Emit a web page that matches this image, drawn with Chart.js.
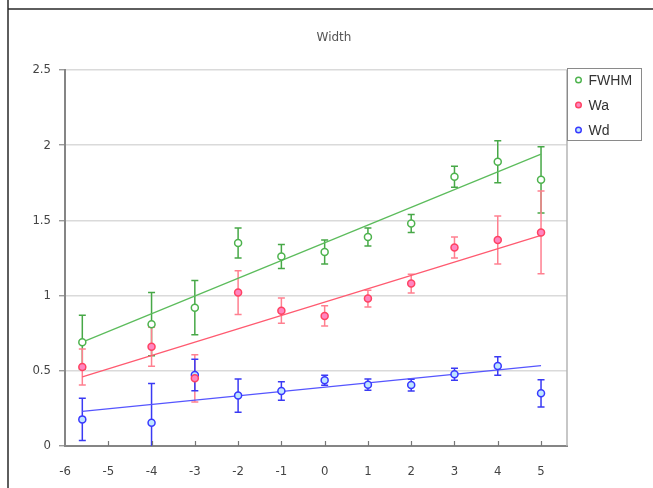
<!DOCTYPE html>
<html>
<head>
<meta charset="utf-8">
<script src="https://cdn.jsdelivr.net/npm/chart.js@4/dist/chart.umd.min.js"></script>
<style>
  html, body { margin: 0; padding: 0; background: #ffffff; }
  canvas { display: block; }
</style>
</head>
<body>
<canvas id="c" width="653" height="488"></canvas>
<script>
// Positions along the x axis
const xValues = [-5.6, -4, -3, -2, -1, 0, 1, 2, 3, 4, 5];

// Measured widths with their error margins
const fwhm    = [0.69, 0.81, 0.92, 1.35, 1.26, 1.29, 1.39, 1.48, 1.79, 1.89, 1.77];
const fwhmErr = [0.18, 0.21, 0.18, 0.10, 0.08, 0.08, 0.06, 0.06, 0.07, 0.14, 0.22];
const wa      = [0.525, 0.66, 0.45, 1.02, 0.90, 0.865, 0.98, 1.08, 1.32, 1.37, 1.42];
const waErr   = [0.12, 0.13, 0.157, 0.146, 0.084, 0.067, 0.055, 0.062, 0.07, 0.16, 0.275];
const wd      = [0.177, 0.155, 0.472, 0.335, 0.366, 0.437, 0.408, 0.405, 0.477, 0.532, 0.35];
const wdErr   = [0.14, 0.26, 0.104, 0.11, 0.062, 0.033, 0.037, 0.039, 0.04, 0.062, 0.09];

// Linear trend lines (end points)
const trendX    = [-5.6, 5];
const fwhmTrend = [0.69, 1.94];
const waTrend   = [0.46, 1.40];
const wdTrend   = [0.23, 0.535];

// Axis ticks
const xTicks = [-6, -5, -4, -3, -2, -1, 0, 1, 2, 3, 4, 5];
const yTicks = [0, 0.5, 1, 1.5, 2, 2.5];

const seriesNames = ['FWHM', 'Wa', 'Wd'];
const chartTitle = 'Width';

const toPoints = (xs, ys) => xs.map((x, i) => ({ x: x, y: ys[i] }));

const COLORS = {
  FWHM: { line: '#4db34d', fill: '#ffffff', err: '#47a847', trend: '#5cbc5c' },
  Wa:   { line: '#ff4262', fill: '#ff86c0', err: '#ff8090', trend: '#ff5a70' },
  Wd:   { line: '#3838ff', fill: '#bfe6ff', err: '#3a3af4', trend: '#5555ff' }
};

function pointSet(name, ys, errs) {
  const c = COLORS[name];
  return {
    label: name,
    data: toPoints(xValues, ys),
    errors: errs,
    showLine: false,
    pointRadius: 3.5,
    pointHoverRadius: 3.5,
    pointBorderWidth: 1.5,
    borderColor: c.line,
    backgroundColor: c.fill,
    errColor: c.err
  };
}

function trendSet(name, ys) {
  const c = COLORS[name];
  return {
    label: name + ' trend',
    data: toPoints(trendX, ys),
    showLine: true,
    pointRadius: 0,
    borderWidth: 1.3,
    borderColor: c.trend,
    backgroundColor: c.trend,
    isTrend: true
  };
}

// Frame around the page, the title, and the plot's right edge
const framePlugin = {
  id: 'frame',
  beforeDraw(chart) {
    const ctx = chart.ctx;
    ctx.save();
    ctx.fillStyle = '#ffffff';
    ctx.fillRect(0, 0, chart.width, chart.height);
    ctx.strokeStyle = '#2a2a2a';
    ctx.lineWidth = 1.5;
    ctx.beginPath();
    ctx.moveTo(8, 9);
    ctx.lineTo(chart.width, 9);
    ctx.moveTo(8, 0);
    ctx.lineTo(8, chart.height);
    ctx.stroke();
    ctx.fillStyle = '#555555';
    ctx.font = '12px "DejaVu Sans", sans-serif';
    ctx.textAlign = 'center';
    ctx.textBaseline = 'middle';
    ctx.fillText(chartTitle, 334, 38);
    ctx.restore();
  },
  afterDraw(chart) {
    const ctx = chart.ctx;
    const a = chart.chartArea;
    ctx.save();
    ctx.strokeStyle = '#b4b4b4';
    ctx.lineWidth = 1.5;
    ctx.beginPath();
    ctx.moveTo(a.right, a.top);
    ctx.lineTo(a.right, a.bottom);
    ctx.stroke();
    // short tick marks pointing up from the x axis
    const xs = chart.scales.x;
    ctx.strokeStyle = '#777777';
    ctx.lineWidth = 1.2;
    ctx.beginPath();
    xTicks.forEach(v => {
      if (v === xTicks[0]) return;
      const px = Math.round(xs.getPixelForValue(v)) + 0.5;
      ctx.moveTo(px, a.bottom);
      ctx.lineTo(px, a.bottom - 5);
    });
    ctx.stroke();
    ctx.restore();
  }
};

// Vertical error bars with caps
const errorBarPlugin = {
  id: 'errorBars',
  beforeDatasetsDraw(chart) {
    const ctx = chart.ctx;
    const a = chart.chartArea;
    const xs = chart.scales.x, ys = chart.scales.y;
    ctx.save();
    ctx.beginPath();
    ctx.rect(a.left, a.top - 10, a.right - a.left, a.bottom - a.top + 10);
    ctx.clip();
    chart.data.datasets.forEach(ds => {
      if (!ds.errors) return;
      ctx.strokeStyle = ds.errColor;
      ctx.lineWidth = 1.5;
      ds.data.forEach((p, i) => {
        const e = ds.errors[i];
        const px = xs.getPixelForValue(p.x);
        const top = ys.getPixelForValue(p.y + e);
        const bot = ys.getPixelForValue(p.y - e);
        ctx.beginPath();
        ctx.moveTo(px, top);
        ctx.lineTo(px, bot);
        ctx.moveTo(px - 3.5, top);
        ctx.lineTo(px + 3.5, top);
        if (p.y - e >= 0) {
          ctx.moveTo(px - 3.5, bot);
          ctx.lineTo(px + 3.5, bot);
        }
        ctx.stroke();
      });
    });
    ctx.restore();
  }
};

// Boxed legend to the right of the plot
const boxLegendPlugin = {
  id: 'boxLegend',
  afterDraw(chart) {
    const ctx = chart.ctx;
    const a = chart.chartArea;
    const left = a.right + 0.5, top = 68.5, w = 74, h = 72;
    ctx.save();
    ctx.strokeStyle = '#8a8a8a';
    ctx.lineWidth = 1;
    ctx.strokeRect(left, top, w, h);
    ctx.font = '14px "Liberation Sans", Arial, sans-serif';
    ctx.textBaseline = 'middle';
    ctx.textAlign = 'left';
    chart.data.datasets.forEach((ds, i) => {
      if (ds.isTrend) return;
      const cy = 80 + i * 25;
      ctx.beginPath();
      ctx.arc(left + 11, cy, 2.8, 0, Math.PI * 2);
      ctx.fillStyle = ds.backgroundColor;
      ctx.fill();
      ctx.strokeStyle = ds.borderColor;
      ctx.lineWidth = 1.4;
      ctx.stroke();
      ctx.fillStyle = '#333333';
      ctx.fillText(ds.label, left + 21, cy + 1);
    });
    ctx.restore();
  }
};

const tickFont = { family: '"Liberation Sans Narrow", "DejaVu Sans Condensed", sans-serif', size: 13 };

new Chart(document.getElementById('c'), {
  type: 'scatter',
  data: {
    datasets: [
      pointSet(seriesNames[0], fwhm, fwhmErr),
      pointSet(seriesNames[1], wa, waErr),
      pointSet(seriesNames[2], wd, wdErr),
      trendSet(seriesNames[0], fwhmTrend),
      trendSet(seriesNames[1], waTrend),
      trendSet(seriesNames[2], wdTrend)
    ]
  },
  options: {
    responsive: false,
    devicePixelRatio: 1,
    animation: false,
    layout: { padding: { left: 0, right: 86, top: 70, bottom: 0 } },
    plugins: {
      legend: { display: false },
      tooltip: { enabled: false },
      title: { display: false }
    },
    scales: {
      x: {
        type: 'linear',
        min: -6,
        max: 5.6,
        afterBuildTicks(scale) { scale.ticks = xTicks.map(v => ({ value: v })); },
        afterFit(scale) { scale.height = 42; },
        grid: { display: false },
        border: { display: true, color: '#858585', width: 2 },
        ticks: { color: '#444444', font: tickFont, padding: 10, maxRotation: 0,
                 callback: v => String(v) }
      },
      y: {
        type: 'linear',
        min: 0,
        max: 2.5,
        afterBuildTicks(scale) { scale.ticks = yTicks.map(v => ({ value: v })); },
        afterFit(scale) { scale.width = 65; },
        grid: { color: '#dadada', lineWidth: 1.5, tickLength: 6, tickColor: '#8a8a8a', tickWidth: 1.2 },
        border: { display: true, color: '#858585', width: 2 },
        ticks: { color: '#444444', font: tickFont, padding: 8,
                 callback: v => String(v) }
      }
    }
  },
  plugins: [framePlugin, errorBarPlugin, boxLegendPlugin]
});
</script>
</body>
</html>
